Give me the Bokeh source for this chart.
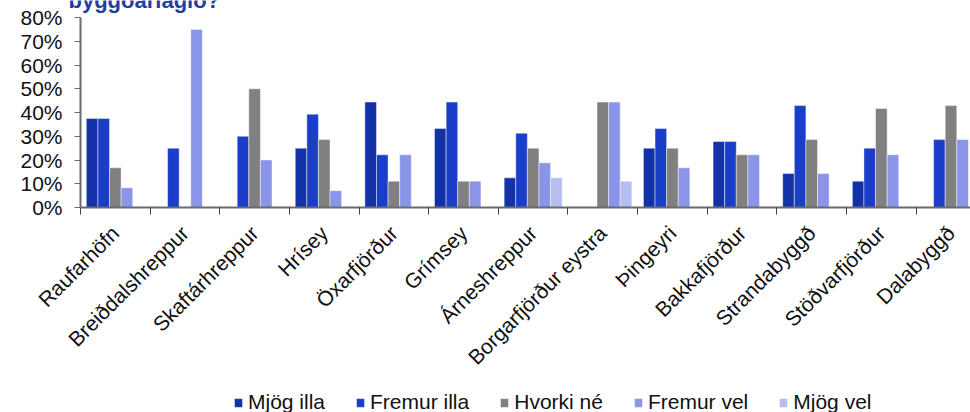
import math
from bokeh.plotting import figure
from bokeh.models import (Range1d, FixedTicker, PrintfTickFormatter, Legend,
                          LegendItem, Label, ColumnDataSource)
from bokeh.transform import dodge
from bokeh.embed import file_html
from bokeh.resources import INLINE

places = ["Raufarhöfn", "Breiðdalshreppur", "Skaftárhreppur", "Hrísey",
          "Öxarfjörður", "Grímsey", "Árneshreppur", "Borgarfjörður eystra",
          "Þingeyri", "Bakkafjörður", "Strandabyggð", "Stöðvarfjörður",
          "Dalabyggð"]

series_names = ["Mjög illa", "Fremur illa", "Hvorki né", "Fremur vel", "Mjög vel"]

mjog_illa   = [37.5, 0,  0,  25.0, 44.4, 33.3, 12.5, 0,    25.0, 27.8, 14.3, 11.1, 0]
fremur_illa = [37.5, 25, 30, 39.3, 22.2, 44.4, 31.3, 0,    33.3, 27.8, 42.9, 25.0, 28.6]
hvorki_ne   = [16.7, 0,  50, 28.6, 11.1, 11.1, 25.0, 44.4, 25.0, 22.2, 28.6, 41.7, 42.9]
fremur_vel  = [8.3,  75, 20, 7.1,  22.2, 11.1, 18.8, 44.4, 16.7, 22.2, 14.3, 22.2, 28.6]
mjog_vel    = [0,    0,  0,  0,    0,    0,    12.5, 11.1, 0,    0,    0,    0,    0]

y_ticks = [0, 10, 20, 30, 40, 50, 60, 70, 80]

series_values = [mjog_illa, fremur_illa, hvorki_ne, fremur_vel, mjog_vel]
colors = ["#1432a8", "#1a3ec8", "#808080", "#8a95e8", "#b6bdf0"]

FONT = "Liberation Sans"

# The frame covers the whole canvas; both axes are drawn at fixed data
# locations inside it, so the labels and legend have room around the bars.
W, H = 970, 412
AX_LEFT, AX_TOP, AX_BOTTOM = 80, 17, 207          # pixel layout of the value area
CAT_PX = (W - AX_LEFT) / 12.78                    # width of one category band
PX_PER_UNIT = (AX_BOTTOM - AX_TOP) / 80

x_start = -AX_LEFT / CAT_PX
x_end = (W - AX_LEFT) / CAT_PX
y_end = 80 + AX_TOP / PX_PER_UNIT
y_start = -(H - AX_BOTTOM) / PX_PER_UNIT

p = figure(frame_width=W, frame_height=H, output_backend="svg", toolbar_location=None,
           x_range=Range1d(x_start, x_end), y_range=Range1d(y_start, y_end),
           min_border=0)
p.outline_line_color = None
p.xgrid.visible = False
p.ygrid.visible = False

centers = [i + 0.5 for i in range(len(places))]
renderers = []
for k, (name, vals, col) in enumerate(zip(series_names, series_values, colors)):
    src = ColumnDataSource(dict(x=centers, top=vals))
    r = p.vbar(x=dodge("x", (k - 2) / 6, range=p.x_range), top="top", width=1 / 6,
               bottom=0, source=src, fill_color=col, line_color="white",
               line_alpha=0.45, line_width=1)
    renderers.append(r)

# Y axis (drawn at x = 0)
ya = p.yaxis[0]
ya.fixed_location = 0
ya.ticker = FixedTicker(ticks=y_ticks)
ya.bounds = (0, 80)
ya.formatter = PrintfTickFormatter(format="%d%%")
ya.axis_line_color = "#6b6b6b"
ya.axis_line_width = 2
ya.major_tick_line_color = "#6b6b6b"
ya.major_tick_out = 6
ya.major_tick_in = 0
ya.minor_tick_line_color = None
ya.major_label_standoff = 12
ya.major_label_text_font = FONT
ya.major_label_text_font_size = "21px"
ya.major_label_text_color = "#111111"

# X axis (drawn at value 0)
xa = p.xaxis[0]
xa.fixed_location = 0
xa.ticker = FixedTicker(ticks=centers, minor_ticks=list(range(len(places) + 1)))
xa.bounds = (0, x_end)
xa.major_label_overrides = {c: n for c, n in zip(centers, places)}
xa.axis_line_color = "#6b6b6b"
xa.axis_line_width = 2
xa.major_tick_line_color = None
xa.major_tick_out = 0
xa.major_tick_in = 0
xa.minor_tick_line_color = "#444444"
xa.minor_tick_out = 7
xa.minor_tick_in = 0
xa.major_label_orientation = math.pi / 4
xa.major_label_standoff = 15
xa.major_label_text_font = FONT
xa.major_label_text_font_size = "21px"
xa.major_label_text_color = "#111111"

legend = Legend(items=[LegendItem(label=n, renderers=[r]) for n, r in zip(series_names, renderers)],
                orientation="horizontal", location=(233, -2),
                glyph_width=10, glyph_height=11, label_standoff=5, spacing=30,
                padding=0, margin=0, border_line_color=None,
                background_fill_alpha=0, label_text_font=FONT,
                label_text_font_size="21px", label_text_color="#111111")
p.add_layout(legend, "center")

# the chart's title sits mostly above the top edge; only its lower part shows
title = Label(x=-12 / CAT_PX, y=80 + 17 / PX_PER_UNIT, text="byggðarlagið?", text_font=FONT,
              text_font_size="22px", text_font_style="bold", text_color="#1f3f9f",
              text_baseline="alphabetic")
p.add_layout(title)

open("out.html", "w").write(file_html(p, INLINE))
